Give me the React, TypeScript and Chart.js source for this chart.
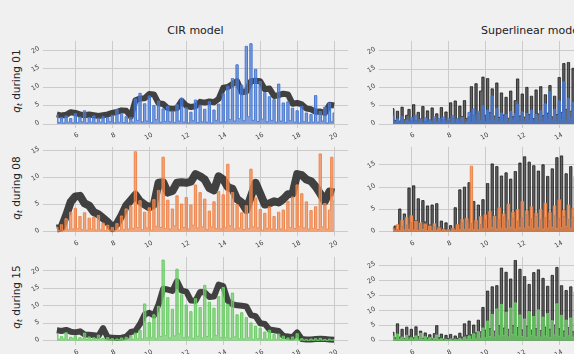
import React, { useEffect, useRef } from "react";
import { Chart, registerables } from "chart.js";
Chart.register(...registerables);

// ---------- time grid (hours) ----------
const fineX: number[] = Array.from({ length: 121 }, (_, i) => 5 + i * 0.125);
const bandX: number[] = Array.from({ length: 61 }, (_, i) => 5 + i * 0.25);
const rightX: number[] = fineX.slice(0, 85);

const xTicksMin = 4.25;
const xTicksMax = 20.75;

// ---------- CIR model ----------
const cirBand01 = [
  2.6, 2.3, 2.5, 3.2, 3.0, 2.6, 2.4, 2.6, 2.4, 2.2, 2.4, 2.6, 3.0, 3.3, 3.7, 3.6,
  2.0, 6.4, 6.9, 7.0, 8.1, 8.0, 5.6, 5.4, 4.3, 4.1, 4.3, 6.3, 5.0, 4.6, 4.8, 6.0,
  5.8, 6.1, 5.9, 6.8, 9.8, 10.0, 10.8, 11.6, 8.6, 8.8, 11.6, 11.7, 11.6, 9.4, 9.6, 7.6,
  7.8, 8.2, 8.0, 5.5, 5.7, 5.3, 4.2, 4.0, 3.3, 3.4, 3.0, 5.2, 5.0,
];
const cirQ01 = [
  2.5, 0.4, 1.8, 0.3, 2.2, 0.5, 1.5, 0.3,
  2.8, 0.4, 1.9, 0.6, 3.6, 0.3, 1.7, 0.5,
  2.2, 0.3, 1.6, 0.5, 2.0, 0.2, 1.8, 0.6,
  2.4, 0.3, 3.9, 0.5, 2.6, 0.4, 2.0, 0.3,
  1.8, 0.5, 6.8, 1.0, 8.3, 0.6, 5.5, 0.8,
  7.6, 0.4, 5.0, 1.2, 6.2, 0.5, 4.1, 0.7,
  4.8, 0.6, 3.5, 0.4, 5.2, 0.8, 6.9, 0.5,
  4.4, 0.3, 3.2, 0.9, 6.5, 0.4, 5.1, 0.6,
  4.0, 0.5, 6.0, 0.3, 3.8, 1.0, 5.4, 0.5,
  8.2, 0.6, 10.2, 1.2, 12.3, 0.8, 16.0, 1.5,
  10.5, 0.9, 21.0, 2.0, 21.7, 1.0, 14.8, 0.7,
  11.5, 1.3, 8.5, 0.6, 7.4, 1.0, 6.6, 0.5,
  10.8, 0.8, 5.7, 0.4, 6.0, 0.9, 4.3, 0.5,
  3.6, 0.3, 4.8, 0.6, 3.0, 0.4, 2.6, 0.5,
  7.7, 0.5, 3.4, 0.8, 4.6, 0.3, 5.7, 0.6,
  3.0,
];

const cirBand08 = [
  0.6, 0.8, 3.0, 5.5, 6.5, 6.6, 5.2, 4.8, 3.6, 3.2, 2.5, 1.8, 0.7, 1.5, 3.0, 4.8,
  5.8, 6.8, 5.6, 5.0, 4.5, 5.0, 9.0, 9.1, 7.2, 7.5, 9.0, 9.1, 9.0, 9.2, 10.6, 10.2,
  9.6, 8.0, 7.6, 10.2, 9.6, 8.2, 7.9, 6.0, 5.4, 4.0, 6.5, 9.0, 7.0, 5.0, 5.2, 5.6,
  5.4, 6.0, 6.9, 7.0, 10.6, 10.4, 9.6, 9.3, 8.3, 7.0, 5.6, 7.4, 7.2,
];
const cirQ08 = [
  0.8, 0.2, 1.3, 0.3, 2.4, 0.4, 3.6, 0.5,
  4.3, 0.6, 2.8, 0.4, 3.5, 0.3, 2.5, 0.5,
  2.7, 0.3, 3.0, 0.4, 1.6, 0.2, 1.2, 0.3,
  0.8, 0.2, 1.5, 0.3, 2.9, 0.4, 4.2, 0.5,
  4.8, 0.6, 14.7, 0.8, 5.7, 0.4, 3.6, 0.7,
  4.4, 0.3, 5.9, 1.0, 7.6, 0.8, 13.7, 0.6,
  5.8, 0.5, 4.2, 1.1, 6.6, 0.4, 5.1, 0.8,
  6.3, 0.5, 4.9, 1.2, 8.6, 0.7, 7.2, 0.9,
  6.0, 0.4, 3.8, 0.9, 5.5, 0.6, 7.4, 0.5,
  6.8, 0.8, 12.4, 1.1, 7.2, 0.5, 5.0, 0.7,
  3.5, 0.4, 4.8, 0.6, 11.5, 0.9, 6.2, 0.7,
  4.1, 0.3, 3.4, 0.6, 4.6, 0.5, 2.8, 0.4,
  3.6, 0.5, 4.0, 0.3, 5.6, 0.8, 6.4, 0.6,
  8.6, 1.0, 7.0, 0.7, 5.5, 0.5, 3.9, 0.6,
  4.6, 0.4, 14.3, 0.9, 5.2, 0.5, 4.0, 13.7,
  5.6,
];

const cirBand15 = [
  3.0, 2.8, 3.1, 2.6, 2.4, 2.7, 1.8, 1.7, 1.6, 1.4, 3.6, 1.0, 0.9, 0.8, 0.9, 1.2,
  2.5, 2.8, 4.8, 7.5, 8.0, 7.2, 10.4, 14.8, 14.6, 14.2, 17.0, 14.3, 14.0, 11.5, 11.4, 13.9,
  13.8, 12.5, 12.6, 16.0, 15.6, 11.4, 10.4, 10.1, 10.0, 9.8, 7.3, 7.0, 5.0, 4.8, 3.2, 3.0,
  2.8, 1.4, 1.2, 1.0, 2.4, 0.5, 0.4, 0.4, 0.5, 0.6, 0.5, 0.4, 0.3,
];
const cirQ15 = [
  1.8, 0.4, 1.2, 0.5, 2.3, 0.3, 1.0, 0.6,
  1.4, 0.3, 0.9, 0.5, 2.2, 0.4, 1.1, 0.3,
  0.9, 0.2, 1.6, 0.4, 0.7, 0.2, 0.9, 0.3,
  0.6, 0.2, 0.5, 0.3, 0.8, 0.2, 1.0, 0.3,
  1.5, 0.4, 2.2, 0.6, 3.0, 0.5, 10.5, 0.8,
  5.2, 1.0, 7.4, 0.6, 9.8, 1.2, 23.0, 1.5,
  12.3, 0.8, 9.0, 1.4, 20.4, 2.0, 13.1, 0.9,
  10.2, 1.1, 8.3, 0.7, 12.0, 1.3, 9.5, 0.8,
  15.8, 1.2, 11.0, 0.6, 9.3, 1.5, 12.6, 0.9,
  15.2, 1.0, 10.4, 0.7, 13.6, 1.1, 7.4, 0.6,
  8.0, 0.5, 6.6, 0.9, 5.1, 0.4, 4.2, 0.6,
  3.6, 0.4, 2.5, 0.5, 3.0, 0.3, 1.8, 0.4,
  1.9, 0.3, 1.3, 0.4, 0.8, 0.2, 1.1, 0.3,
  2.0, 0.2, 0.6, 0.2, 0.4, 0.1, 0.5, 0.2,
  0.6, 0.1, 0.7, 0.2, 0.4, 0.1, 0.5, 0.2,
  0.3,
];

// ---------- Superlinear model (visible part, 5h to 15.5h) ----------
const supDark01 = [
  4.2, 1.0, 3.5, 0.8, 4.6, 1.2, 2.4, 4.0,
  1.1, 5.3, 0.9, 3.2, 1.4, 4.8, 0.7, 3.6,
  1.0, 4.4, 1.3, 2.8, 0.8, 4.5, 1.2, 3.3,
  1.0, 5.8, 1.6, 6.3, 1.4, 4.9, 2.0, 6.4,
  1.5, 2.0, 10.2, 2.5, 11.0, 3.0, 9.0, 12.8,
  2.4, 12.4, 3.1, 9.6, 2.2, 11.2, 1.8, 8.5,
  2.5, 7.3, 1.6, 9.0, 2.0, 6.4, 12.3, 2.2,
  8.2, 1.9, 10.0, 2.6, 7.6, 1.5, 9.3, 2.8,
  10.2, 2.3, 8.0, 3.0, 10.5, 2.0, 7.6, 2.6,
  12.7, 3.2, 16.5, 4.0, 16.8, 3.5, 15.2, 4.2,
  13.0, 3.6, 17.5, 4.0, 14.8,
];
const supQ01 = [
  2.2, 0.3, 1.4, 0.5, 2.0, 0.2, 1.1, 0.4,
  1.8, 0.3, 2.4, 0.5, 1.3, 0.2, 1.7, 0.4,
  1.2, 0.3, 2.0, 0.4, 1.5, 0.2, 1.9, 0.3,
  1.6, 0.4, 2.3, 0.3, 1.4, 0.5, 1.8, 0.3,
  0.6, 3.2, 0.5, 4.1, 0.8, 3.5, 1.0, 5.0,
  0.7, 3.8, 1.1, 7.6, 0.9, 4.2, 0.6, 3.0,
  0.8, 2.6, 0.5, 3.4, 0.9, 2.8, 5.4, 0.6,
  3.3, 0.7, 2.9, 1.0, 3.8, 0.5, 2.6, 0.8,
  3.6, 0.6, 5.5, 1.1, 8.8, 0.9, 4.0, 0.7,
  6.3, 1.2, 11.5, 0.8, 7.0, 1.4, 5.8, 0.9,
  6.0, 1.0, 8.5, 1.1, 6.2,
];

const supDark08 = [
  0.8, 1.3, 0.5, 5.1, 1.2, 4.0, 1.5, 9.8,
  2.0, 10.3, 2.5, 7.4, 1.8, 7.0, 2.2, 5.8,
  1.5, 6.0, 1.2, 6.3, 1.0, 2.4, 0.6, 2.0,
  0.5, 1.4, 0.7, 5.4, 1.5, 9.4, 2.0, 10.0,
  2.4, 11.0, 1.8, 6.8, 2.1, 6.0, 1.6, 7.2,
  2.6, 10.8, 3.0, 15.2, 3.5, 14.6, 2.8, 12.5,
  3.3, 13.2, 2.6, 11.8, 3.0, 13.5, 2.4, 15.4,
  3.1, 16.8, 3.8, 15.6, 2.9, 14.8, 3.4, 13.6,
  2.7, 15.0, 3.2, 12.4, 2.5, 14.1, 3.6, 16.6,
  3.0, 17.0, 3.4, 13.0, 2.8, 14.6, 3.3, 12.4,
  3.0, 14.0, 3.2, 15.6, 2.9,
];
const supQ08 = [
  0.8, 0.2, 1.6, 0.3, 2.6, 0.4, 3.2, 0.5,
  3.6, 0.4, 2.4, 0.3, 2.0, 0.5, 1.7, 0.3,
  1.3, 0.2, 1.8, 0.3, 0.9, 0.2, 0.6, 0.2,
  0.5, 0.1, 0.8, 0.3, 1.6, 0.4, 2.8, 0.5,
  3.0, 0.6, 14.7, 0.5, 2.6, 0.4, 3.4, 0.6,
  3.8, 0.7, 4.6, 0.9, 3.5, 0.6, 5.4, 0.8,
  4.0, 0.7, 6.2, 1.0, 4.4, 0.6, 5.0, 0.9,
  6.8, 0.8, 4.7, 1.1, 5.6, 0.7, 4.2, 0.9,
  5.0, 0.6, 6.4, 0.8, 4.3, 1.0, 5.8, 0.7,
  7.2, 0.9, 4.8, 1.2, 6.0, 0.8, 5.2, 0.9,
  5.5, 0.8, 6.1, 0.9, 4.8,
];

const supDark15 = [
  2.8, 1.0, 5.6, 1.2, 3.8, 0.8, 4.5, 1.5,
  3.8, 1.0, 4.6, 1.4, 3.2, 0.8, 2.6, 1.0,
  2.0, 0.6, 2.4, 5.0, 1.0, 2.2, 0.5, 1.8,
  0.7, 2.1, 0.5, 1.6, 0.8, 2.5, 1.2, 5.6,
  1.8, 6.5, 2.0, 5.2, 2.6, 6.8, 3.0, 11.0,
  3.5, 16.4, 4.0, 17.8, 3.2, 18.2, 5.0, 24.0,
  4.2, 22.6, 3.8, 20.4, 5.0, 26.5, 4.4, 23.6,
  3.6, 21.2, 4.8, 18.6, 3.5, 22.5, 4.0, 23.4,
  3.4, 20.6, 4.5, 18.0, 3.8, 21.6, 5.2, 24.2,
  4.0, 18.2, 3.2, 16.6, 4.4, 17.8, 3.0, 16.2,
  3.5, 17.4, 3.8, 18.6, 4.0,
];
const supQ15 = [
  1.5, 0.3, 2.2, 0.4, 1.2, 0.5, 1.8, 0.3,
  1.0, 0.4, 1.6, 0.3, 2.4, 0.5, 1.3, 0.3,
  1.0, 0.2, 0.8, 1.9, 0.3, 0.7, 0.2, 0.5,
  0.3, 0.6, 0.2, 0.5, 0.3, 0.8, 0.2, 1.2,
  0.4, 1.6, 0.5, 2.3, 0.6, 3.0, 0.8, 4.2,
  1.0, 6.5, 1.4, 8.7, 1.2, 10.5, 1.6, 12.0,
  1.8, 9.4, 1.2, 10.8, 2.0, 12.5, 1.5, 8.5,
  1.4, 7.2, 1.0, 9.6, 1.8, 8.0, 1.3, 10.2,
  1.2, 7.8, 1.6, 9.0, 1.1, 6.6, 1.9, 12.2,
  1.5, 8.4, 1.0, 6.8, 1.7, 7.5, 1.2, 6.0,
  2.0, 9.0, 1.3, 7.2, 1.5,
];

// ---------- styling ----------
const BLUE = "#4878D0";
const ORANGE = "#EE854A";
const GREEN = "#6ACC64";
const BG = "#f0f0f0";
const GRID = "#cbcbcb";
const FONT = "'DejaVu Sans', sans-serif";

type Spec = {
  id: string;
  kind: "band" | "spiky";
  darkX: number[];
  dark: number[];
  qX: number[];
  q: number[];
  color: string;
  fill: string;
  left: number;
  top: number;
  width: number;
  height: number;
  yMin: number;
  yMax: number;
  bandWidth: number;
};

const LEFT_COL = 43;
const RIGHT_COL = 379;
const COL_W = 305;
const ROWS = [
  { top: 39, height: 89 },
  { top: 145, height: 91 },
  { top: 255, height: 90 },
];

const specs: Spec[] = [
  { id: "c01", kind: "band", darkX: bandX, dark: cirBand01, qX: fineX, q: cirQ01, color: BLUE, fill: "rgba(72,120,208,0.7)", left: LEFT_COL, width: COL_W, ...ROWS[0], yMin: -1.06, yMax: 22.46, bandWidth: 6 },
  { id: "s01", kind: "spiky", darkX: rightX, dark: supDark01, qX: rightX, q: supQ01, color: BLUE, fill: "rgba(72,120,208,0.75)", left: RIGHT_COL, width: COL_W, ...ROWS[0], yMin: -1.07, yMax: 22.67, bandWidth: 1 },
  { id: "c08", kind: "band", darkX: bandX, dark: cirBand08, qX: fineX, q: cirQ08, color: ORANGE, fill: "rgba(238,133,74,0.7)", left: LEFT_COL, width: COL_W, ...ROWS[1], yMin: -0.77, yMax: 15.59, bandWidth: 8 },
  { id: "s08", kind: "spiky", darkX: rightX, dark: supDark08, qX: rightX, q: supQ08, color: ORANGE, fill: "rgba(238,133,74,0.75)", left: RIGHT_COL, width: COL_W, ...ROWS[1], yMin: -0.94, yMax: 19.01, bandWidth: 1 },
  { id: "c15", kind: "band", darkX: bandX, dark: cirBand15, qX: fineX, q: cirQ15, color: GREEN, fill: "rgba(106,204,100,0.7)", left: LEFT_COL, width: COL_W, ...ROWS[2], yMin: -1.2, yMax: 23.9, bandWidth: 6 },
  { id: "s15", kind: "spiky", darkX: rightX, dark: supDark15, qX: rightX, q: supQ15, color: GREEN, fill: "rgba(106,204,100,0.75)", left: RIGHT_COL, width: COL_W, ...ROWS[2], yMin: -1.39, yMax: 27.68, bandWidth: 1 },
];

const Y_AXIS_W = 30;
const X_AXIS_H = 22;
const PAD_T = 6;
const PAD_R = 6;

function pts(xs: number[], ys: number[]) {
  return ys.map((y, i) => ({ x: xs[i], y }));
}

function SubChart({ spec }: { spec: Spec }) {
  const ref = useRef<HTMLCanvasElement | null>(null);
  const cw = spec.width + Y_AXIS_W + PAD_R;
  const ch = spec.height + PAD_T + X_AXIS_H;

  useEffect(() => {
    if (!ref.current) return;
    const darkDataset =
      spec.kind === "band"
        ? {
            data: pts(spec.darkX, spec.dark),
            borderColor: "rgba(40,40,40,0.88)",
            borderWidth: spec.bandWidth,
            borderJoinStyle: "round",
            borderCapStyle: "butt",
            fill: false,
            order: 1,
          }
        : {
            data: pts(spec.darkX, spec.dark),
            borderColor: "rgba(30,30,30,0.85)",
            borderWidth: spec.bandWidth,
            stepped: "middle",
            fill: "origin",
            backgroundColor: "rgba(45,45,45,0.72)",
            order: 1,
          };
    const chart = new Chart(ref.current, {
      type: "line",
      data: {
        datasets: [
          {
            data: pts(spec.qX, spec.q),
            borderColor: spec.color,
            borderWidth: 1,
            stepped: "middle",
            fill: "origin",
            backgroundColor: spec.fill,
            order: 0,
          } as any,
          darkDataset as any,
        ],
      },
      options: {
        responsive: false,
        animation: false,
        devicePixelRatio: 1,
        layout: { padding: { top: PAD_T, right: PAD_R, left: 0, bottom: 0 } },
        plugins: { legend: { display: false }, tooltip: { enabled: false } },
        elements: { point: { radius: 0 }, line: { tension: 0 } },
        scales: {
          x: {
            type: "linear",
            min: xTicksMin,
            max: xTicksMax,
            afterFit: (s: any) => {
              s.height = X_AXIS_H;
              s.paddingLeft = 0;
              s.paddingRight = 0;
            },
            grid: { color: GRID, lineWidth: 1, drawTicks: false },
            border: { display: false },
            ticks: {
              stepSize: 2,
              includeBounds: false,
              autoSkip: false,
              minRotation: 30,
              maxRotation: 30,
              padding: 3,
              labelOffset: 3,
              color: "#444",
              font: { family: FONT, size: 6.5 },
            },
          },
          y: {
            type: "linear",
            min: spec.yMin,
            max: spec.yMax,
            afterFit: (s: any) => {
              s.width = Y_AXIS_W;
            },
            grid: { color: GRID, lineWidth: 1, drawTicks: false },
            border: { display: false },
            ticks: {
              stepSize: 5,
              includeBounds: false,
              minRotation: 30,
              maxRotation: 30,
              padding: 4,
              labelOffset: -2,
              color: "#444",
              font: { family: FONT, size: 6.5 },
            },
          },
        },
      },
    });
    return () => chart.destroy();
  }, []);

  return (
    <canvas
      ref={ref}
      width={cw}
      height={ch}
      style={{
        position: "absolute",
        left: spec.left - Y_AXIS_W,
        top: spec.top - PAD_T,
        width: cw,
        height: ch,
      }}
    />
  );
}

const rowLabels = ["01", "08", "15"];
const colTitles = ["CIR model", "Superlinear model"];

export default function App() {
  useEffect(() => {
    document.body.style.margin = "0";
    document.body.style.background = BG;
  }, []);

  return (
    <div
      style={{
        position: "fixed",
        left: 0,
        top: 0,
        width: 574,
        height: 354,
        overflow: "hidden",
        background: BG,
        fontFamily: FONT,
        color: "#222",
      }}
    >
      {colTitles.map((t, i) => {
        const cx = (i === 0 ? LEFT_COL : RIGHT_COL) + COL_W / 2;
        return (
          <div
            key={t}
            style={{
              position: "absolute",
              left: cx - 100,
              width: 200,
              top: 25,
              textAlign: "center",
              fontSize: 11,
              lineHeight: "11px",
              whiteSpace: "nowrap",
            }}
          >
            {t}
          </div>
        );
      })}
      {rowLabels.map((r, i) => {
        const cy = ROWS[i].top + ROWS[i].height / 2 - 3;
        return (
          <div
            key={r}
            style={{
              position: "absolute",
              left: 17.5,
              top: cy,
              transform: "translate(-50%, -50%) rotate(-90deg)",
              fontSize: 10.5,
              lineHeight: "12px",
              whiteSpace: "nowrap",
            }}
          >
            <span style={{ fontStyle: "italic" }}>q</span>
            <span style={{ fontStyle: "italic", fontSize: "0.7em", verticalAlign: "-0.3em" }}>t</span>
            {" during " + r}
          </div>
        );
      })}
      {specs.map((s) => (
        <SubChart key={s.id} spec={s} />
      ))}
    </div>
  );
}
